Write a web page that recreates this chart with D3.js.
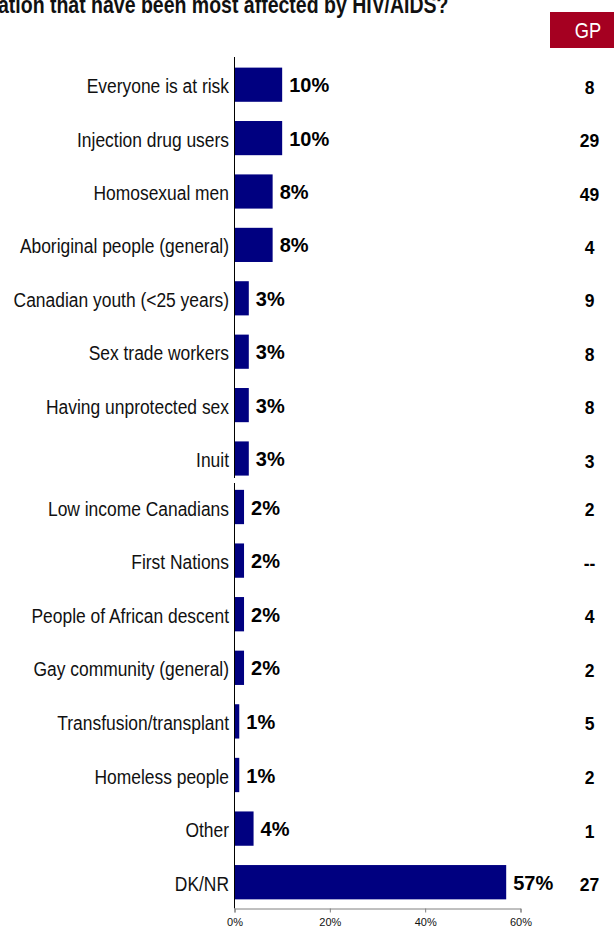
<!DOCTYPE html>
<html>
<head>
<meta charset="utf-8">
<script src="https://cdn.jsdelivr.net/npm/d3@7"></script>
<style>
  html, body { margin: 0; padding: 0; background: #fff; }
  svg { display: block; }
</style>
</head>
<body>
<svg id="chart" width="614" height="928"></svg>
<script>
const titleText = "ation that have been most affected by HIV/AIDS?";
const gpHeader = "GP";
const categoriesTop = ["Everyone is at risk", "Injection drug users", "Homosexual men", "Aboriginal people (general)", "Canadian youth (<25 years)", "Sex trade workers", "Having unprotected sex", "Inuit"];
const categoriesBottom = ["Low income Canadians", "First Nations", "People of African descent", "Gay community (general)", "Transfusion/transplant", "Homeless people", "Other", "DK/NR"];
const valuesTop = [10, 10, 8, 8, 3, 3, 3, 3];
const valuesBottom = [2, 2, 2, 2, 1, 1, 4, 57];
const gpTop = ["8", "29", "49", "4", "9", "8", "8", "3"];
const gpBottom = ["2", "--", "4", "2", "5", "2", "1", "27"];
const xTicks = [0, 20, 40, 60];

const svg = d3.select("#chart");
const sans = "'Liberation Sans', Arial, sans-serif";
const NARROW = 0.83;

const x = d3.scaleLinear().domain([0, 60]).range([234.5, 520.5]);

// Title (cut off at top-left like the reference)
svg.append("text")
  .attr("transform", `translate(-2,13) scale(${NARROW},1)`)
  .attr("font-family", sans).attr("font-weight", "bold").attr("font-size", 23.5)
  .attr("fill", "#111")
  .text(titleText);

// GP header
svg.append("rect").attr("x", 550).attr("y", 12).attr("width", 64).attr("height", 36).attr("fill", "#a50021");
svg.append("text")
  .attr("transform", `translate(588,37.5) scale(${NARROW},1)`)
  .attr("text-anchor", "middle")
  .attr("font-family", sans).attr("font-size", 22).attr("fill", "#fff").text(gpHeader);

function drawPanel(cats, vals, gps, r0, r1, axisTop, axisBottom) {
  const pi = 0.36;
  const y = d3.scaleBand().domain(cats).range([r0, r1]).paddingInner(pi).paddingOuter(pi / 2);
  const g = svg.append("g");
  const rows = cats.map((c, i) => ({ c, v: vals[i], gp: gps[i] }));

  g.selectAll("rect.bar").data(rows).join("rect")
    .attr("class", "bar")
    .attr("x", x(0)).attr("y", d => y(d.c))
    .attr("width", d => x(d.v) - x(0)).attr("height", y.bandwidth())
    .attr("fill", "#000080");

  g.selectAll("text.cat").data(rows).join("text")
    .attr("class", "cat")
    .attr("transform", d => `translate(229,${y(d.c) + y.bandwidth() / 2 + 8.5}) scale(${NARROW},1)`)
    .attr("text-anchor", "end")
    .attr("font-family", sans).attr("font-size", 21).attr("fill", "#111")
    .text(d => d.c);

  g.selectAll("text.val").data(rows).join("text")
    .attr("class", "val")
    .attr("x", d => x(d.v) + 7).attr("y", d => y(d.c) + y.bandwidth() / 2 + 7.5)
    .attr("font-family", sans).attr("font-weight", "bold").attr("font-size", 20).attr("fill", "#000")
    .text(d => d.v + "%");

  g.selectAll("text.gp").data(rows).join("text")
    .attr("class", "gp")
    .attr("x", 589.5).attr("y", d => y(d.c) + y.bandwidth() / 2 + 9)
    .attr("text-anchor", "middle")
    .attr("font-family", sans).attr("font-weight", "bold").attr("font-size", 17.5).attr("fill", "#000")
    .text(d => d.gp);

  g.append("line")
    .attr("x1", x(0)).attr("x2", x(0)).attr("y1", axisTop).attr("y2", axisBottom)
    .attr("stroke", "#000").attr("stroke-width", 1);
}

drawPanel(categoriesTop, valuesTop, gpTop, 58, 485.2, 57, 478);
drawPanel(categoriesBottom, valuesBottom, gpBottom, 480.2, 909, 483, 908.5);

// X axis
const xAxis = d3.axisBottom(x).tickValues(xTicks).tickFormat(d => d + "%").tickSize(4).tickPadding(6);
const ax = svg.append("g").attr("transform", "translate(0,908.5)").call(xAxis);
ax.select(".domain").attr("stroke", "#808080");
ax.selectAll(".tick line").attr("stroke", "#808080");
ax.selectAll(".tick text").attr("font-family", sans).attr("font-size", 11).attr("fill", "#111");
</script>
</body>
</html>
